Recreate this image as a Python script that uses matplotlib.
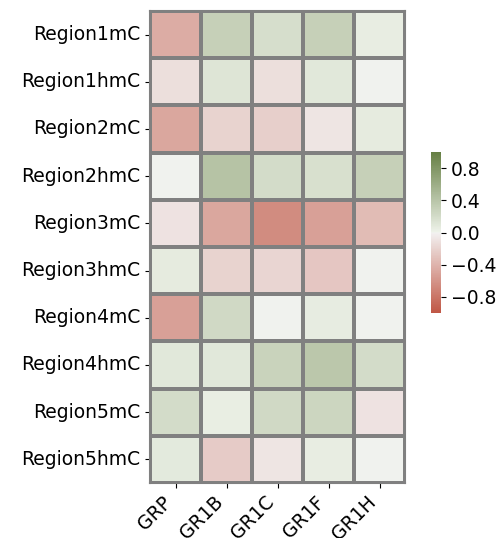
import numpy as np
import matplotlib
matplotlib.use('Agg')
import matplotlib.pyplot as plt
import seaborn as sns

rows = ['Region1mC', 'Region1hmC', 'Region2mC', 'Region2hmC', 'Region3mC',
        'Region3hmC', 'Region4mC', 'Region4hmC', 'Region5mC', 'Region5hmC']
cols = ['GRP', 'GR1B', 'GR1C', 'GR1F', 'GR1H']
vals = [[-0.45, 0.30, 0.18, 0.30, 0.05],
        [-0.12, 0.12, -0.12, 0.10, 0.00],
        [-0.48, -0.20, -0.22, -0.08, 0.07],
        [0.00, 0.42, 0.20, 0.17, 0.30],
        [-0.10, -0.48, -0.65, -0.52, -0.35],
        [0.07, -0.20, -0.18, -0.28, 0.00],
        [-0.52, 0.22, 0.00, 0.06, 0.00],
        [0.10, 0.10, 0.28, 0.38, 0.20],
        [0.20, 0.04, 0.22, 0.25, -0.10],
        [0.08, -0.25, -0.08, 0.05, 0.00]]
data = np.array(vals)

cmap = sns.diverging_palette(18, 108, s=65, l=50, as_cmap=True)

fig = plt.figure(figsize=(5.03, 5.38), dpi=100)
ax = fig.add_axes([150/503, 1-483/538, 255/503, 472/538])
cax = fig.add_axes([431/503, 1-313/538, 10/503, 161/538])
sns.heatmap(data, ax=ax, cbar_ax=cax, cmap=cmap, vmin=-1, vmax=1,
            linewidths=1.5, linecolor='grey',
            xticklabels=cols, yticklabels=rows)
ax.tick_params(axis='y', labelsize=13.5, rotation=0)
ax.tick_params(axis='x', labelsize=13.5)
plt.setp(ax.get_xticklabels(), rotation=45, ha='right')
cax.tick_params(labelsize=13.5)
cax.set_yticks([-0.8, -0.4, 0.0, 0.4, 0.8])
for s in ax.spines.values():
    s.set_visible(True)
    s.set_color('grey')
    s.set_linewidth(1.5)
fig.savefig('out.png', dpi=100)
